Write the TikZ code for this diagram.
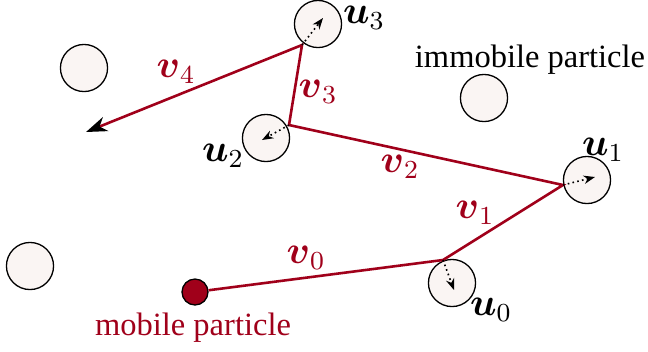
\documentclass[tikz,border=0pt]{standalone}
\usepackage{amsmath}
\usepackage{fontspec}
\setmainfont{Liberation Serif}
\usetikzlibrary{arrows.meta}
\definecolor{darkred}{RGB}{160,0,26}
\definecolor{grain}{RGB}{250,245,243}

\begin{document}
\begin{tikzpicture}[
    x=0.3077pt, y=-0.3077pt,
    immobile/.style={circle, draw=black, fill=grain, line width=0.4pt, minimum size=14.5pt, inner sep=0pt},
    mobile/.style={circle, draw=black, fill=darkred, line width=0.4pt, minimum size=8pt, inner sep=0pt},
    jump/.style={draw=darkred, line width=0.8pt},
    kick/.style={densely dotted, line width=0.5pt, -{Stealth[length=3.5pt, width=2.6pt]}},
    veclabel/.style={text=darkred, font=\large, inner sep=1pt},
    kicklabel/.style={font=\large, inner sep=1pt}
]
\useasboundingbox (0,0) rectangle (648,351);

% Immobile particles
\node[immobile] (g1) at (84,68) {};
\node[immobile] (g2) at (30,266) {};
\node[immobile] (g3) at (484,98) {};
\node[immobile] (c3) at (318,24) {};
\node[immobile] (c2) at (266,138) {};
\node[immobile] (c1) at (587,180) {};
\node[immobile] (c0) at (452,283) {};

% --- Contact points and end of the walk
\coordinate (p1) at (443,260);
\coordinate (p2) at (563,185);
\coordinate (p3) at (289,125);
\coordinate (p4) at (302,45);
\coordinate (pend) at (86,132);

% --- Dotted kick directions
\coordinate (k0) at (454,290);
\coordinate (k1) at (595,177);
\coordinate (k2) at (262,140);
\coordinate (k3) at (323,18);

% Mobile particle
\node[mobile] (m) at (195,292) {};

% --- Walk of the mobile particle
\draw[jump, -{Stealth[length=6.5pt, width=4.6pt, inset=2pt, black]}]
    (m) -- (p1) -- (p2) -- (p3) -- (p4) -- (pend);

\draw[kick] (p1) -- (k0);
\draw[kick] (p2) -- (k1);
\draw[kick] (p3) -- (k2);
\draw[kick] (p4) -- (k3);

% Labels
\node[veclabel] (v0) at (306,258) {$\boldsymbol{v}_0$};
\node[veclabel] (v1) at (475,213) {$\boldsymbol{v}_1$};
\node[veclabel] (v2) at (400,167) {$\boldsymbol{v}_2$};
\node[veclabel] (v3) at (318,92) {$\boldsymbol{v}_3$};
\node[veclabel] (v4) at (176,72) {$\boldsymbol{v}_4$};
\node[kicklabel] (u0) at (491,310) {$\boldsymbol{u}_0$};
\node[kicklabel] (u1) at (603,150) {$\boldsymbol{u}_1$};
\node[kicklabel] (u2) at (223,156) {$\boldsymbol{u}_2$};
\node[kicklabel] (u3) at (364,18) {$\boldsymbol{u}_3$};

\node (imm) at (530,60) {immobile particle};
\node[text=darkred] (mob) at (193,328) {mobile particle};
\end{tikzpicture}
\end{document}
